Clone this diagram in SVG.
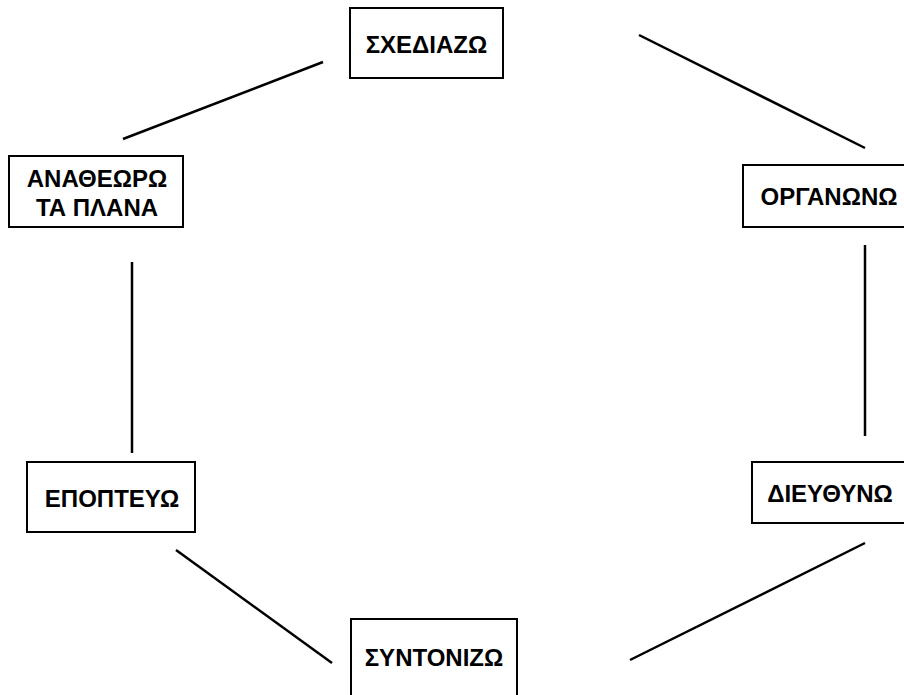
<svg xmlns="http://www.w3.org/2000/svg" width="904" height="695" viewBox="0 0 904 695">
<style>
.box{fill:#fff;stroke:#000;stroke-width:2}
.lbl{font-family:"Liberation Sans",Arial,sans-serif;font-weight:bold;font-size:24px;fill:#000;text-anchor:middle}
.conn line{stroke:#000;stroke-width:2.5}
</style>
<rect width="904" height="695" fill="#fff"/>
<g id="connectors" class="conn">
<line x1="123" y1="139" x2="323" y2="62"/>
<line x1="639" y1="35" x2="865" y2="148"/>
<line x1="132" y1="262" x2="132" y2="453"/>
<line x1="865" y1="245" x2="865" y2="436"/>
<line x1="176" y1="550" x2="332" y2="663"/>
<line x1="630" y1="660" x2="865" y2="543"/>
</g>
<g id="n-sxediazo"><rect class="box" x="350" y="8" width="153" height="70"/><text class="lbl" x="426.5" y="53">ΣΧΕΔΙΑΖΩ</text></g>
<g id="n-anatheoro"><rect class="box" x="9" y="156" width="174" height="71"/><text class="lbl" x="97" y="187">ΑΝΑΘΕΩΡΩ</text><text class="lbl" x="97" y="216">ΤΑ ΠΛΑΝΑ</text></g>
<g id="n-organono"><rect class="box" x="743" y="165" width="170" height="62"/><text class="lbl" x="829" y="205">ΟΡΓΑΝΩΝΩ</text></g>
<g id="n-epopteyo"><rect class="box" x="27" y="462" width="168" height="70"/><text class="lbl" x="112" y="507">ΕΠΟΠΤΕΥΩ</text></g>
<g id="n-dieythyno"><rect class="box" x="752" y="462" width="160" height="61"/><text class="lbl" x="830" y="502">ΔΙΕΥΘΥΝΩ</text></g>
<g id="n-syntonizo"><rect class="box" x="351" y="619" width="166" height="90"/><text class="lbl" x="434" y="666">ΣΥΝΤΟΝΙΖΩ</text></g>
</svg>
